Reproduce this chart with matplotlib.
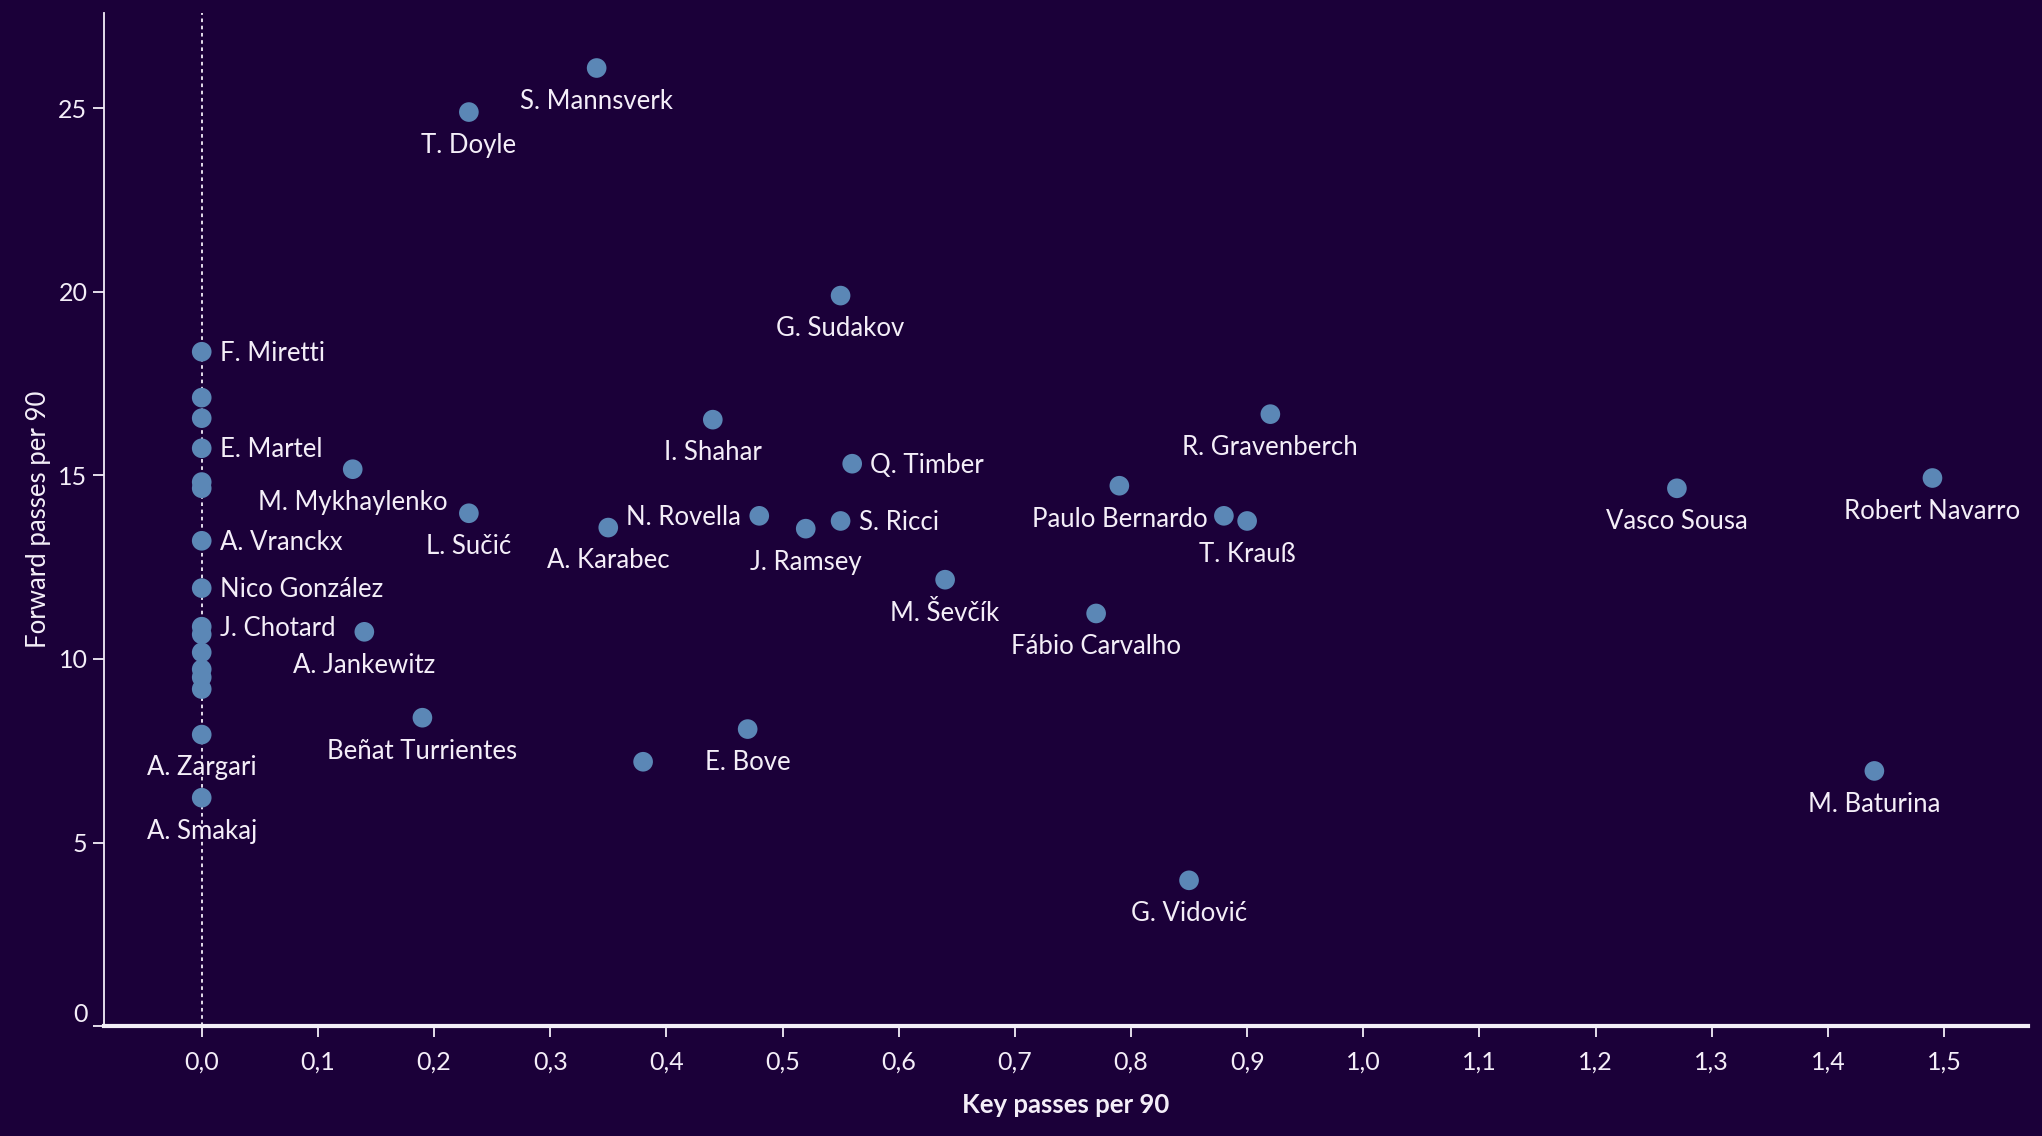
import matplotlib
matplotlib.use("Agg")
import matplotlib.pyplot as plt
from matplotlib.ticker import FixedLocator, FuncFormatter

# ---- data ----
names = ["S. Mannsverk", "T. Doyle", "G. Sudakov", "F. Miretti", "", "", "E. Martel", "", "",
         "A. Vranckx", "Nico González", "J. Chotard", "", "", "", "", "",
         "A. Zargari", "A. Smakaj", "M. Mykhaylenko", "L. Sučić", "A. Jankewitz",
         "Beñat Turrientes", "A. Karabec", "N. Rovella", "I. Shahar", "Q. Timber",
         "S. Ricci", "J. Ramsey", "", "E. Bove", "M. Ševčík", "Fábio Carvalho",
         "Paulo Bernardo", "R. Gravenberch", "", "T. Krauß", "G. Vidović",
         "Vasco Sousa", "Robert Navarro", "M. Baturina"]
key_passes = [0.34, 0.23, 0.55, 0.0, 0.0, 0.0, 0.0, 0.0, 0.0,
              0.0, 0.0, 0.0, 0.0, 0.0, 0.0, 0.0, 0.0,
              0.0, 0.0, 0.13, 0.23, 0.14,
              0.19, 0.35, 0.48, 0.44, 0.56,
              0.55, 0.52, 0.38, 0.47, 0.64, 0.77,
              0.79, 0.92, 0.88, 0.90, 0.85,
              1.27, 1.49, 1.44]
forward_passes = [26.1, 24.9, 19.9, 18.37, 17.12, 16.56, 15.74, 14.82, 14.65,
                  13.22, 11.93, 10.88, 10.67, 10.18, 9.72, 9.50, 9.18,
                  7.94, 6.22, 15.17, 13.97, 10.74,
                  8.40, 13.58, 13.90, 16.52, 15.32,
                  13.76, 13.55, 7.20, 8.09, 12.16, 11.24,
                  14.72, 16.67, 13.90, 13.76, 3.97,
                  14.65, 14.93, 6.95]
# label placement: 'r' right of dot, 'l' left of dot, 'b' below dot
placement = ["b", "b", "b", "r", "", "", "r", "", "",
             "r", "r", "r", "", "", "", "", "",
             "b", "b", "b", "b", "b",
             "b", "b", "l", "b", "r",
             "r", "b", "", "b", "b", "b",
             "b", "b", "", "b", "b",
             "b", "b", "b"]
x_ticks = [round(0.1 * i, 1) for i in range(16)]
y_ticks = [0, 5, 10, 15, 20, 25]

BG = "#1b0039"
DOT = "#5b87b6"
TXT = "#f4eef8"
FONT = "Lato"
LBL_FS = 18.5

plt.rcParams["font.family"] = [FONT, "DejaVu Sans"]

fig = plt.figure(figsize=(20.42, 11.36), dpi=100, facecolor=BG)
ax = fig.add_axes([0.051, 0.0968, 0.942, 0.8918], facecolor=BG)

ax.axvline(0, color=TXT, lw=1.3, ls=(0, (2, 2)), zorder=1)
ax.scatter(key_passes, forward_passes, s=200, color=DOT, edgecolors="none", zorder=3)

for n, x, y, p in zip(names, key_passes, forward_passes, placement):
    if not n:
        continue
    if p == "r":
        ax.annotate(n, (x, y), xytext=(13, -1), textcoords="offset points",
                    ha="left", va="center", color=TXT, fontsize=LBL_FS)
    elif p == "l":
        ax.annotate(n, (x, y), xytext=(-13, -1), textcoords="offset points",
                    ha="right", va="center", color=TXT, fontsize=LBL_FS)
    else:
        ax.annotate(n, (x, y), xytext=(0, -24), textcoords="offset points",
                    ha="center", va="center", color=TXT, fontsize=LBL_FS)

ax.set_xlim(-0.084, 1.572)
ax.set_ylim(0, 27.6)
ax.xaxis.set_major_locator(FixedLocator(x_ticks))
ax.yaxis.set_major_locator(FixedLocator(y_ticks))
ax.xaxis.set_major_formatter(FuncFormatter(lambda v, p: f"{v:.1f}".replace(".", ",")))
ax.yaxis.set_major_formatter(FuncFormatter(lambda v, p: f"{int(v)}"))

for s in ["top", "right"]:
    ax.spines[s].set_visible(False)
ax.spines["left"].set_color(TXT)
ax.spines["left"].set_linewidth(1.3)
ax.spines["bottom"].set_color(TXT)
ax.spines["bottom"].set_linewidth(3)

ax.tick_params(axis="x", colors=TXT, labelsize=18, length=8, width=1.3, pad=10)
ax.tick_params(axis="y", colors=TXT, labelsize=18, length=8, width=1.3, pad=4)
for lbl in ax.get_xticklabels() + ax.get_yticklabels():
    lbl.set_color(TXT)
fig.canvas.draw()
ylbls = ax.get_yticklabels()
ylbls[0].set_va("bottom")

ax.set_xlabel("Key passes per 90", color=TXT, fontsize=LBL_FS, fontweight="bold", labelpad=14)
ax.set_ylabel("Forward passes per 90", color=TXT, fontsize=LBL_FS, labelpad=5)

fig.savefig("out.png", dpi=100, facecolor=BG)
